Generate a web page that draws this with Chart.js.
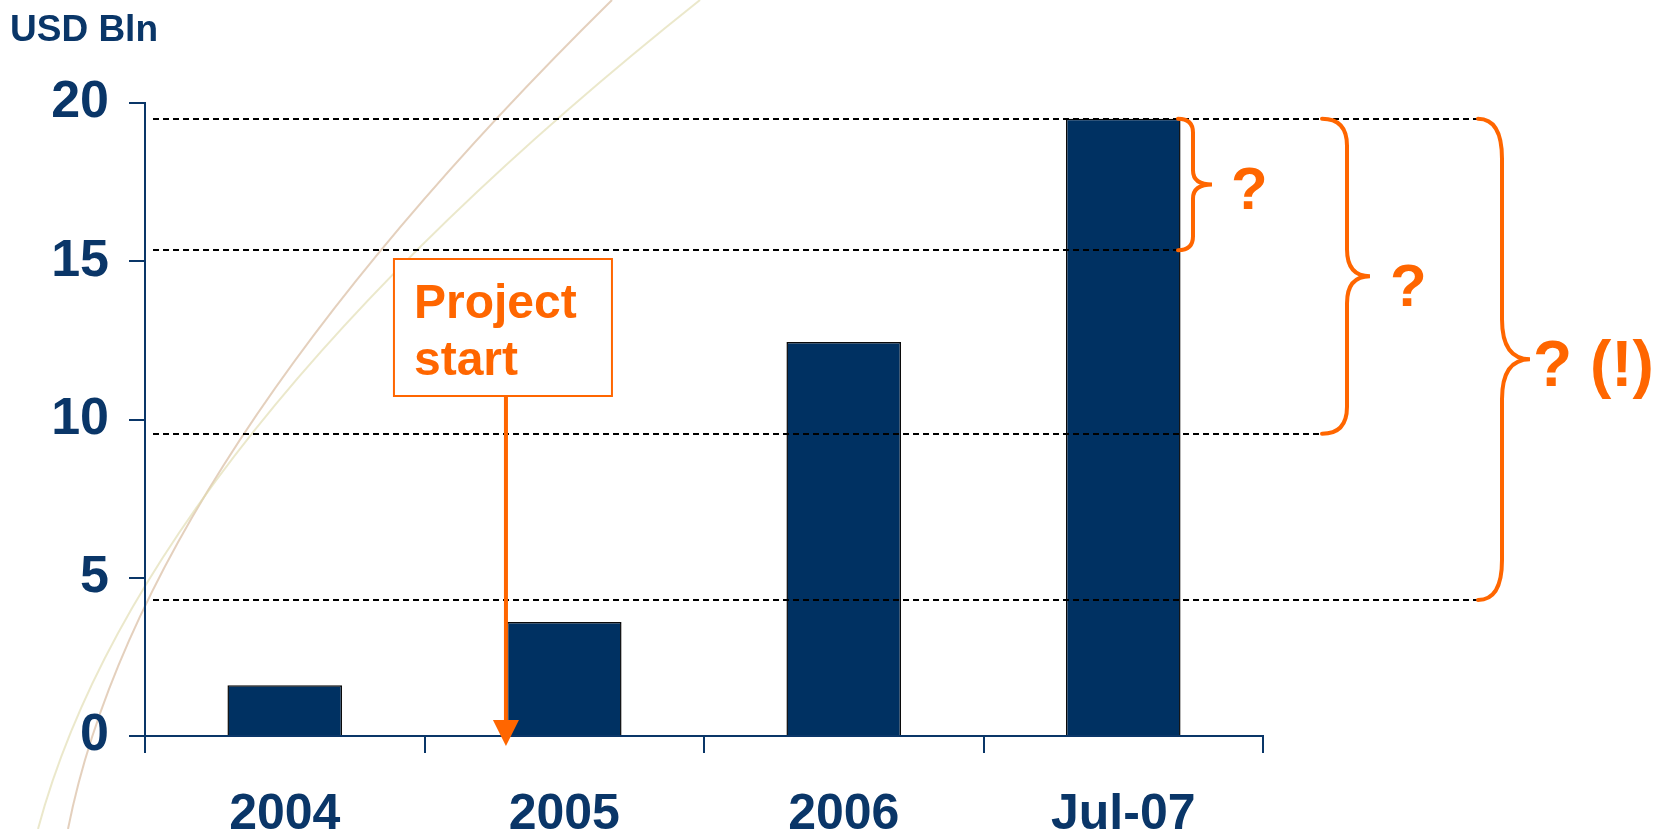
<!DOCTYPE html>
<html>
<head>
<meta charset="utf-8">
<script src="https://cdn.jsdelivr.net/npm/chart.js@4.4.0/dist/chart.umd.min.js"></script>
<style>
  html, body { margin: 0; padding: 0; background: #fff; }
  canvas { display: block; }
</style>
</head>
<body>
<canvas id="chart" width="1664" height="829"></canvas>
<script>
// data
const categories = ["2004", "2005", "2006", "Jul-07"];
const values = [1.6, 3.6, 12.45, 19.5];
const yTicks = [0, 5, 10, 15, 20];
const guideLevels = [19.5, 15.35, 9.55, 4.3];
const unitLabel = "USD Bln";
const braceLabels = ["?", "?", "? (!)"];
const projectLabel = ["Project", "start"];

const NAVY = "#0a3668";
const BAR = "#003162";
const ORANGE = "#ff6600";
const FONT = "'Liberation Sans', Arial, sans-serif";

// brace shapes: start x, vertical x, tip x, curve size, label offset
const braces = [
  { from: 0, to: 1, x0: 1178, xv: 1193, xt: 1212, k: 14, lx: 1231, dy: 25, size: 60 },
  { from: 0, to: 2, x0: 1322, xv: 1347, xt: 1370, k: 27, lx: 1390, dy: 30, size: 60 },
  { from: 0, to: 3, x0: 1478, xv: 1502, xt: 1530, k: 40, lx: 1533, dy: 27, size: 64 }
];
const guideEnds = [1478, 1178, 1322, 1478];

function drawBrace(ctx, x0, xv, xt, y1, y2, k) {
  const ym = (y1 + y2) / 2;
  ctx.beginPath();
  ctx.moveTo(x0, y1);
  ctx.quadraticCurveTo(xv, y1, xv, y1 + k);
  ctx.lineTo(xv, ym - k);
  ctx.quadraticCurveTo(xv, ym, xt, ym);
  ctx.quadraticCurveTo(xv, ym, xv, ym + k);
  ctx.lineTo(xv, y2 - k);
  ctx.quadraticCurveTo(xv, y2, x0, y2);
  ctx.stroke();
}

const backdrop = {
  id: "backdrop",
  beforeDraw(chart) {
    const ctx = chart.ctx;
    ctx.save();
    ctx.lineWidth = 2;
    ctx.strokeStyle = "rgba(205, 170, 135, 0.55)";
    ctx.beginPath();
    ctx.moveTo(68, 829);
    ctx.quadraticCurveTo(140, 465, 612, 0);
    ctx.stroke();
    ctx.strokeStyle = "rgba(225, 220, 175, 0.65)";
    ctx.beginPath();
    ctx.moveTo(38, 829);
    ctx.quadraticCurveTo(141, 445, 700, 0);
    ctx.stroke();
    ctx.restore();
  }
};

const notes = {
  id: "notes",
  afterDatasetsDraw(chart) {
    const ctx = chart.ctx;
    const y = chart.scales.y;
    const area = chart.chartArea;
    ctx.save();

    // unit label
    ctx.fillStyle = NAVY;
    ctx.font = "bold 37px " + FONT;
    ctx.textBaseline = "alphabetic";
    ctx.fillText(unitLabel, 10, 41);

    // dashed guide lines
    ctx.strokeStyle = "#000";
    ctx.lineWidth = 2;
    ctx.setLineDash([6, 4]);
    guideLevels.forEach((v, i) => {
      const py = Math.round(y.getPixelForValue(v));
      ctx.beginPath();
      ctx.moveTo(area.left + 8, py);
      ctx.lineTo(guideEnds[i], py);
      ctx.stroke();
    });
    ctx.setLineDash([]);

    // braces
    ctx.strokeStyle = ORANGE;
    ctx.fillStyle = ORANGE;
    ctx.lineWidth = 4;
    ctx.lineCap = "round";
    braces.forEach((b, i) => {
      const y1 = y.getPixelForValue(guideLevels[b.from]);
      const y2 = y.getPixelForValue(guideLevels[b.to]);
      drawBrace(ctx, b.x0, b.xv, b.xt, y1, y2, b.k);
      ctx.font = "bold " + b.size + "px " + FONT;
      ctx.fillText(braceLabels[i], b.lx, (y1 + y2) / 2 + b.dy);
    });

    // project start box and arrow
    const bar = chart.getDatasetMeta(0).data[1];
    const ax = bar.x - bar.width / 2 - 1;
    ctx.lineCap = "butt";
    ctx.lineWidth = 2;
    ctx.fillStyle = "#fff";
    ctx.fillRect(ax - 112, 259, 218, 137);
    ctx.strokeRect(ax - 112, 259, 218, 137);
    ctx.fillStyle = ORANGE;
    ctx.font = "bold 48px " + FONT;
    ctx.fillText(projectLabel[0], ax - 92, 318);
    ctx.fillText(projectLabel[1], ax - 92, 375);
    ctx.lineWidth = 4;
    ctx.beginPath();
    ctx.moveTo(ax, 396);
    ctx.lineTo(ax, 725);
    ctx.stroke();
    ctx.beginPath();
    ctx.moveTo(ax - 13, 720);
    ctx.lineTo(ax + 13, 720);
    ctx.lineTo(ax, 746);
    ctx.closePath();
    ctx.fill();

    ctx.restore();
  }
};

new Chart(document.getElementById("chart"), {
  type: "bar",
  data: {
    labels: categories,
    datasets: [{
      data: values,
      backgroundColor: BAR,
      borderColor: "#0a0a0a",
      borderWidth: 1.5,
      categoryPercentage: 1,
      barPercentage: 0.41
    }]
  },
  options: {
    responsive: false,
    animation: false,
    layout: { padding: { top: 103, right: 401, left: 0, bottom: 0 } },
    plugins: { legend: { display: false }, tooltip: { enabled: false } },
    scales: {
      x: {
        afterFit: (s) => { s.height = 93; },
        grid: { offset: true, drawOnChartArea: false, drawTicks: true, tickLength: 17, color: NAVY, lineWidth: 2 },
        border: { display: true, color: NAVY, width: 2 },
        ticks: { color: NAVY, font: { family: FONT, size: 50, weight: "bold" }, padding: 32, maxRotation: 0 }
      },
      y: {
        min: 0,
        max: 20,
        afterFit: (s) => { s.width = 145; },
        afterBuildTicks: (s) => { s.ticks = yTicks.map((v) => ({ value: v })); },
        grid: { drawOnChartArea: false, drawTicks: true, tickLength: 16, color: NAVY, lineWidth: 2 },
        border: { display: true, color: NAVY, width: 2 },
        ticks: { color: NAVY, font: { family: FONT, size: 52, weight: "bold" }, padding: 20 }
      }
    }
  },
  plugins: [backdrop, notes]
});
</script>
</body>
</html>
